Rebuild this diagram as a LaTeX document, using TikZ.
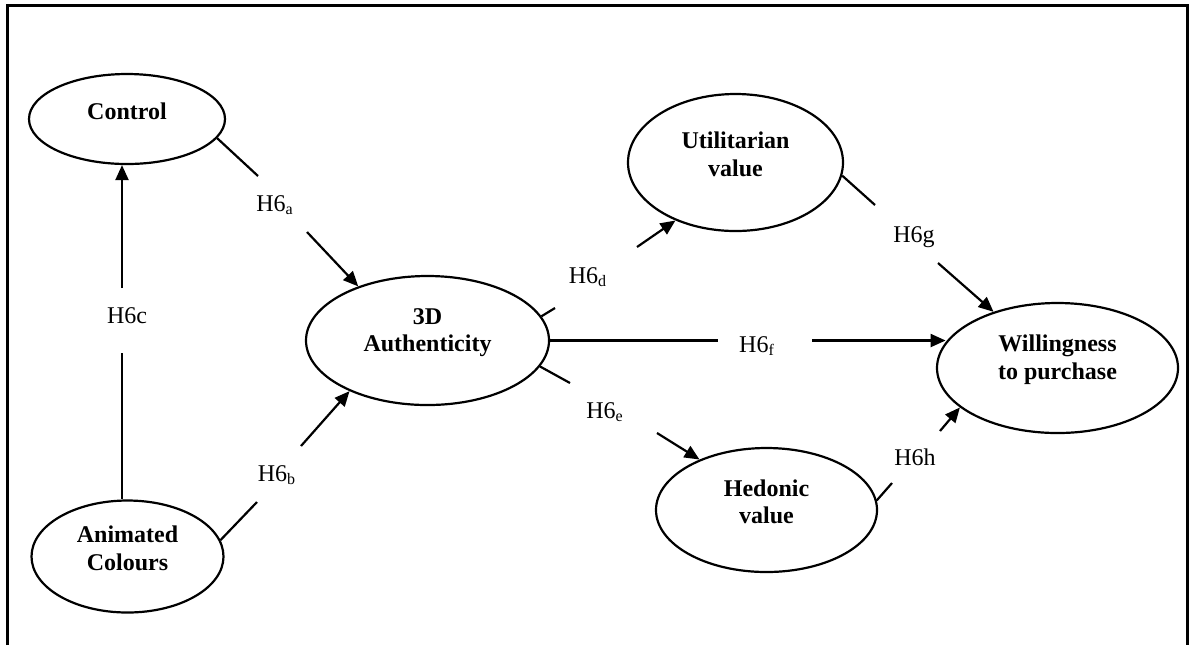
\documentclass[tikz,border=0pt]{standalone}
\usepackage{fontspec}
\setmainfont{Liberation Serif}
\usetikzlibrary{shapes.geometric,arrows.meta}

\tikzset{
  var/.style={ellipse, draw, line width=1.1pt, inner sep=0pt},
  vtext/.style={font=\fontsize{12}{13.8}\selectfont\bfseries, align=center, inner sep=0pt, yshift=4pt},
  hyp/.style={font=\fontsize{12}{14}\selectfont, inner sep=0pt, anchor=base},
  link/.style={line width=1.1pt},
  arr/.style={link, -{Triangle[length=7.5pt,width=6.5pt]}},
  frame/.style={line width=1.5pt}
}

\begin{document}
\begin{tikzpicture}[x=0.5pt, y=-0.5pt]
  \useasboundingbox (0,0) rectangle (1192,645);

  % open frame (no bottom edge)
  \draw[frame] (7,645) -- (7,5) -- (1187,5) -- (1187,645);

  % constructs
  \node[var, minimum width=98pt, minimum height=45pt] (ctl) at (127,119) {};
  \node[vtext] at (ctl.center) {Control};

  \node[var, minimum width=96pt, minimum height=56pt] (ani) at (127.5,556.5) {};
  \node[vtext] at (ani.center) {Animated\\Colours};

  \node[var, minimum width=121.5pt, minimum height=64.5pt] (auth) at (427.5,340.5) {};
  \node[vtext] at (auth.center) {3D\\Authenticity};

  \node[var, minimum width=107.5pt, minimum height=68.5pt] (utl) at (735.5,162.5) {};
  \node[vtext] at (utl.center) {Utilitarian\\value};

  \node[var, minimum width=110.5pt, minimum height=62pt] (hed) at (766.5,510) {};
  \node[vtext] at (hed.center) {Hedonic\\value};

  \node[var, minimum width=120.5pt, minimum height=65pt] (wil) at (1057.5,368) {};
  \node[vtext] at (wil.center) {Willingness\\to purchase};

  % break points of the hypothesis paths
  \coordinate (a1) at (258,176);  \coordinate (a2) at (307,232);
  \coordinate (b1) at (257,502);  \coordinate (b2) at (301,446);
  \coordinate (c1) at (122,353);  \coordinate (c2) at (122,288);
  \coordinate (d1) at (555,308);  \coordinate (d2) at (637,247);
  \coordinate (e1) at (570,383);  \coordinate (e2) at (657,433);
  \coordinate (f1) at (718,340.5);  \coordinate (f2) at (812,340.5);
  \coordinate (g1) at (875,205);  \coordinate (g2) at (938,263);
  \coordinate (h1) at (892,483);  \coordinate (h2) at (940,431);

  % H6a: Control -> 3D Authenticity
  \draw[link] (ctl.-12) -- (a1);
  \node[hyp] (la) at (275,211) {H6\textsubscript{a}};
  \draw[arr] (a2) -- (auth.142);

  % H6b: Animated Colours -> 3D Authenticity
  \draw[link] (ani.10) -- (b1);
  \node[hyp] (lb) at (277,481) {H6\textsubscript{b}};
  \draw[arr] (b2) -- (auth.-147);

  % H6c: Animated Colours -> Control
  \draw[link] (c1 |- ani.north) -- (c1);
  \node[hyp] (lc) at (127,323) {H6c};
  \draw[arr] (c2) -- (c2 |- ctl.south);

  % H6d: 3D Authenticity -> Utilitarian value
  \draw[link] (auth.12) -- (d1);
  \node[hyp] (ld) at (588,283) {H6\textsubscript{d}};
  \draw[arr] (d2) -- (utl.-136);

  % H6e: 3D Authenticity -> Hedonic value
  \draw[link] (auth.-13) -- (e1);
  \node[hyp] (le) at (605,418) {H6\textsubscript{e}};
  \draw[arr] (e2) -- (hed.143);

  % H6f: 3D Authenticity -> Willingness to purchase
  \draw[link] (auth.east) -- (f1);
  \node[hyp] (lf) at (757,352) {H6\textsubscript{f}};
  \draw[arr] (f2) -- (f2 -| wil.167);

  % H6g: Utilitarian value -> Willingness to purchase
  \draw[link] (utl.-7) -- (g1);
  \node[hyp] (lg) at (914,242) {H6g};
  \draw[arr] (g2) -- (wil);

  % H6h: Hedonic value -> Willingness to purchase
  \draw[link] (hed.5) -- (h1);
  \node[hyp] (lh) at (915,465) {H6h};
  \draw[arr] (h2) -- (wil.-158);
\end{tikzpicture}
\end{document}
